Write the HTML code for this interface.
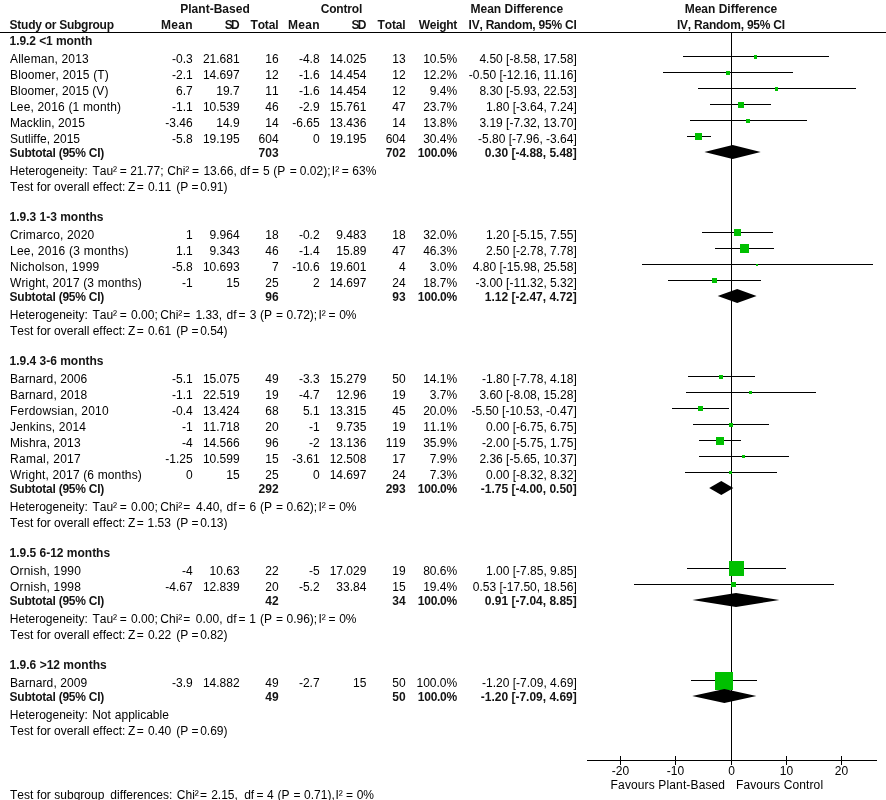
<!DOCTYPE html>
<html><head><meta charset="utf-8"><title>Forest plot</title>
<style>
html,body{margin:0;padding:0;background:#fff}
svg{display:block}
svg{will-change:transform}
text{font-family:"Liberation Sans",sans-serif;font-size:12px;fill:#000;font-kerning:none;font-variant-ligatures:none}
.b{font-weight:bold;fill:#141414}
.e{text-anchor:end}
.m{text-anchor:middle}
</style></head><body>
<svg width="886" height="800" viewBox="0 0 886 800">
<rect width="886" height="800" fill="#fff"/>
<g shape-rendering="crispEdges" fill="#000">
<rect x="0" y="32" width="886" height="1"/>
<rect x="731" y="32" width="1" height="733"/>
<rect x="683" y="56" width="146" height="1"/>
<rect x="754" y="55" width="3" height="4" fill="#00c000"/>
<rect x="663" y="72" width="130" height="1"/>
<rect x="726" y="71" width="4" height="4" fill="#00c000"/>
<rect x="698" y="88" width="158" height="1"/>
<rect x="775" y="87" width="3" height="4" fill="#00c000"/>
<rect x="710" y="104" width="61" height="1"/>
<rect x="738" y="102" width="6" height="6" fill="#00c000"/>
<rect x="690" y="120" width="117" height="1"/>
<rect x="746" y="119" width="4" height="4" fill="#00c000"/>
<rect x="687" y="136" width="24" height="1"/>
<rect x="695" y="133" width="7" height="7" fill="#00c000"/>
<rect x="702" y="232" width="71" height="1"/>
<rect x="734" y="229" width="7" height="7" fill="#00c000"/>
<rect x="715" y="248" width="59" height="1"/>
<rect x="740" y="244" width="9" height="9" fill="#00c000"/>
<rect x="642" y="264" width="231" height="1"/>
<rect x="756" y="264" width="2" height="2" fill="#00c000"/>
<rect x="668" y="280" width="93" height="1"/>
<rect x="712" y="278" width="5" height="5" fill="#00c000"/>
<rect x="688" y="376" width="67" height="1"/>
<rect x="719" y="375" width="4" height="4" fill="#00c000"/>
<rect x="686" y="392" width="130" height="1"/>
<rect x="749" y="391" width="3" height="3" fill="#00c000"/>
<rect x="672" y="408" width="57" height="1"/>
<rect x="698" y="406" width="5" height="5" fill="#00c000"/>
<rect x="693" y="424" width="76" height="1"/>
<rect x="729" y="423" width="4" height="4" fill="#00c000"/>
<rect x="699" y="440" width="42" height="1"/>
<rect x="716" y="437" width="8" height="8" fill="#00c000"/>
<rect x="699" y="456" width="90" height="1"/>
<rect x="742" y="455" width="3" height="3" fill="#00c000"/>
<rect x="685" y="472" width="92" height="1"/>
<rect x="729" y="471" width="3" height="3" fill="#00c000"/>
<rect x="687" y="568" width="99" height="1"/>
<rect x="729" y="561" width="15" height="15" fill="#00c000"/>
<rect x="634" y="584" width="200" height="1"/>
<rect x="731" y="582" width="5" height="5" fill="#00c000"/>
<rect x="691" y="680" width="66" height="1"/>
<rect x="715" y="672" width="18" height="18" fill="#00c000"/>
<rect x="587" y="760" width="290" height="1"/>
<rect x="620" y="756" width="1" height="9"/>
<rect x="675" y="756" width="1" height="9"/>
<rect x="731" y="756" width="1" height="9"/>
<rect x="786" y="756" width="1" height="9"/>
<rect x="841" y="756" width="1" height="9"/>
</g>
<g fill="#000">
<polygon points="704.4,152 732.7,145 760.7,152 732.7,159"/>
<polygon points="717.7,296 737.2,289 756.6,296 737.2,303"/>
<polygon points="709.2,488 721.3,481 733.3,488 721.3,495"/>
<polygon points="692.4,600 736.0,593 779.4,600 736.0,607"/>
<polygon points="692.2,696 724.4,689 756.4,696 724.4,703"/>
</g>
<g id="t">
<text x="215" y="13" class="b m" textLength="69.56">Plant-Based</text>
<text x="341.5" y="13" class="b m" textLength="41.66">Control</text>
<text x="470.5" y="13" class="b" textLength="92.60">Mean Difference</text>
<text x="731" y="13" class="b m" textLength="92.60">Mean Difference</text>
<text x="9.6" y="29" class="b" textLength="104.41">Study or Subgroup</text>
<text x="192.7" y="29" class="b e" textLength="31.69">Mean</text>
<text x="239.6" y="29" class="b e" textLength="14.97">SD</text>
<text x="278.6" y="29" class="b e" textLength="28.17">Total</text>
<text x="319.6" y="29" class="b e" textLength="31.69">Mean</text>
<text x="366.4" y="29" class="b e" textLength="14.97">SD</text>
<text x="405.7" y="29" class="b e" textLength="28.17">Total</text>
<text x="457.2" y="29" class="b e" textLength="38.40">Weight</text>
<text x="576.8" y="29" class="b e" textLength="108.23">IV, Random, 95% CI</text>
<text x="731" y="29" class="b m" textLength="108.23">IV, Random, 95% CI</text>
<text x="9.6" y="45" class="b" textLength="82.70">1.9.2 &lt;1 month</text>
<text x="10" y="63" textLength="78.72">Alleman, 2013</text>
<text x="192.7" y="63" class="e">-0.3</text>
<text x="239.6" y="63" class="e">21.681</text>
<text x="278.6" y="63" class="e">16</text>
<text x="319.6" y="63" class="e">-4.8</text>
<text x="366.4" y="63" class="e">14.025</text>
<text x="405.7" y="63" class="e">13</text>
<text x="457.2" y="63" class="e">10.5%</text>
<text x="576.8" y="63" class="e">4.50 [-8.58, 17.58]</text>
<text x="10" y="79" textLength="98.70">Bloomer, 2015 (T)</text>
<text x="192.7" y="79" class="e">-2.1</text>
<text x="239.6" y="79" class="e">14.697</text>
<text x="278.6" y="79" class="e">12</text>
<text x="319.6" y="79" class="e">-1.6</text>
<text x="366.4" y="79" class="e">14.454</text>
<text x="405.7" y="79" class="e">12</text>
<text x="457.2" y="79" class="e">12.2%</text>
<text x="576.8" y="79" class="e">-0.50 [-12.16, 11.16]</text>
<text x="10" y="95" textLength="98.39">Bloomer, 2015 (V)</text>
<text x="192.7" y="95" class="e">6.7</text>
<text x="239.6" y="95" class="e">19.7</text>
<text x="278.6" y="95" class="e">11</text>
<text x="319.6" y="95" class="e">-1.6</text>
<text x="366.4" y="95" class="e">14.454</text>
<text x="405.7" y="95" class="e">12</text>
<text x="457.2" y="95" class="e">9.4%</text>
<text x="576.8" y="95" class="e">8.30 [-5.93, 22.53]</text>
<text x="10" y="111" textLength="111.08">Lee, 2016 (1 month)</text>
<text x="192.7" y="111" class="e">-1.1</text>
<text x="239.6" y="111" class="e">10.539</text>
<text x="278.6" y="111" class="e">46</text>
<text x="319.6" y="111" class="e">-2.9</text>
<text x="366.4" y="111" class="e">15.761</text>
<text x="405.7" y="111" class="e">47</text>
<text x="457.2" y="111" class="e">23.7%</text>
<text x="576.8" y="111" class="e">1.80 [-3.64, 7.24]</text>
<text x="10" y="127" textLength="75.05">Macklin, 2015</text>
<text x="192.7" y="127" class="e">-3.46</text>
<text x="239.6" y="127" class="e">14.9</text>
<text x="278.6" y="127" class="e">14</text>
<text x="319.6" y="127" class="e">-6.65</text>
<text x="366.4" y="127" class="e">13.436</text>
<text x="405.7" y="127" class="e">14</text>
<text x="457.2" y="127" class="e">13.8%</text>
<text x="576.8" y="127" class="e">3.19 [-7.32, 13.70]</text>
<text x="10" y="143" textLength="70.06">Sutliffe, 2015</text>
<text x="192.7" y="143" class="e">-5.8</text>
<text x="239.6" y="143" class="e">19.195</text>
<text x="278.6" y="143" class="e">604</text>
<text x="319.6" y="143" class="e">0</text>
<text x="366.4" y="143" class="e">19.195</text>
<text x="405.7" y="143" class="e">604</text>
<text x="457.2" y="143" class="e">30.4%</text>
<text x="576.8" y="143" class="e">-5.80 [-7.96, -3.64]</text>
<text x="9.6" y="157" class="b" textLength="94.67">Subtotal (95% CI)</text>
<text x="278.6" y="157" class="b e">703</text>
<text x="405.7" y="157" class="b e">702</text>
<text x="457.2" y="157" class="b e" textLength="39.40">100.0%</text>
<text x="576.8" y="157" class="b e">0.30 [-4.88, 5.48]</text>
<text y="175"><tspan x="9.8">Heterogeneity:</tspan> <tspan x="92.4">Tau²</tspan> <tspan x="119.7">=</tspan> <tspan x="130.2">21.77;</tspan> <tspan x="167.3">Chi²</tspan> <tspan x="192.1">=</tspan> <tspan x="203.4">13.66,</tspan> <tspan x="240.1">df</tspan> <tspan x="252.1">=</tspan> <tspan x="262.9">5</tspan> <tspan x="273.3">(P</tspan> <tspan x="289.7">=</tspan> <tspan x="299.8">0.02);</tspan> <tspan x="331.8">I²</tspan> <tspan x="341.8">=</tspan> <tspan x="352.3">63%</tspan></text>
<text y="190.5"><tspan x="10.0">Test</tspan> <tspan x="36.8">for</tspan> <tspan x="54.1">overall</tspan> <tspan x="92.7">effect:</tspan> <tspan x="127.9">Z</tspan> <tspan x="136.7">=</tspan> <tspan x="147.9">0.11</tspan> <tspan x="176.3">(P</tspan> <tspan x="191.4">=</tspan> <tspan x="200.2">0.91)</tspan></text>
<text x="9.6" y="221" class="b" textLength="93.83">1.9.3 1-3 months</text>
<text x="10" y="239" textLength="84.23">Crimarco, 2020</text>
<text x="192.7" y="239" class="e">1</text>
<text x="239.6" y="239" class="e">9.964</text>
<text x="278.6" y="239" class="e">18</text>
<text x="319.6" y="239" class="e">-0.2</text>
<text x="366.4" y="239" class="e">9.483</text>
<text x="405.7" y="239" class="e">18</text>
<text x="457.2" y="239" class="e">32.0%</text>
<text x="576.8" y="239" class="e">1.20 [-5.15, 7.55]</text>
<text x="10" y="255" textLength="118.38">Lee, 2016 (3 months)</text>
<text x="192.7" y="255" class="e">1.1</text>
<text x="239.6" y="255" class="e">9.343</text>
<text x="278.6" y="255" class="e">46</text>
<text x="319.6" y="255" class="e">-1.4</text>
<text x="366.4" y="255" class="e">15.89</text>
<text x="405.7" y="255" class="e">47</text>
<text x="457.2" y="255" class="e">46.3%</text>
<text x="576.8" y="255" class="e">2.50 [-2.78, 7.78]</text>
<text x="10" y="271" textLength="89.26">Nicholson, 1999</text>
<text x="192.7" y="271" class="e">-5.8</text>
<text x="239.6" y="271" class="e">10.693</text>
<text x="278.6" y="271" class="e">7</text>
<text x="319.6" y="271" class="e">-10.6</text>
<text x="366.4" y="271" class="e">19.601</text>
<text x="405.7" y="271" class="e">4</text>
<text x="457.2" y="271" class="e">3.0%</text>
<text x="576.8" y="271" class="e">4.80 [-15.98, 25.58]</text>
<text x="10" y="287" textLength="131.82">Wright, 2017 (3 months)</text>
<text x="192.7" y="287" class="e">-1</text>
<text x="239.6" y="287" class="e">15</text>
<text x="278.6" y="287" class="e">25</text>
<text x="319.6" y="287" class="e">2</text>
<text x="366.4" y="287" class="e">14.697</text>
<text x="405.7" y="287" class="e">24</text>
<text x="457.2" y="287" class="e">18.7%</text>
<text x="576.8" y="287" class="e">-3.00 [-11.32, 5.32]</text>
<text x="9.6" y="301" class="b" textLength="94.67">Subtotal (95% CI)</text>
<text x="278.6" y="301" class="b e">96</text>
<text x="405.7" y="301" class="b e">93</text>
<text x="457.2" y="301" class="b e" textLength="39.40">100.0%</text>
<text x="576.8" y="301" class="b e">1.12 [-2.47, 4.72]</text>
<text y="319"><tspan x="9.8">Heterogeneity:</tspan> <tspan x="92.4">Tau²</tspan> <tspan x="119.7">=</tspan> <tspan x="131.1">0.00;</tspan> <tspan x="160.3">Chi²</tspan> <tspan x="183.2">=</tspan> <tspan x="195.4">1.33,</tspan> <tspan x="226.6">df</tspan> <tspan x="238.6">=</tspan> <tspan x="249.7">3</tspan> <tspan x="260.0">(P</tspan> <tspan x="275.9">=</tspan> <tspan x="286.5">0.72);</tspan> <tspan x="318.5">I²</tspan> <tspan x="328.5">=</tspan> <tspan x="339.2">0%</tspan></text>
<text y="334.5"><tspan x="10.0">Test</tspan> <tspan x="36.8">for</tspan> <tspan x="54.1">overall</tspan> <tspan x="92.7">effect:</tspan> <tspan x="127.9">Z</tspan> <tspan x="136.7">=</tspan> <tspan x="147.9">0.61</tspan> <tspan x="176.3">(P</tspan> <tspan x="191.4">=</tspan> <tspan x="200.2">0.54)</tspan></text>
<text x="9.6" y="365" class="b" textLength="93.83">1.9.4 3-6 months</text>
<text x="10" y="383" textLength="77.26">Barnard, 2006</text>
<text x="192.7" y="383" class="e">-5.1</text>
<text x="239.6" y="383" class="e">15.075</text>
<text x="278.6" y="383" class="e">49</text>
<text x="319.6" y="383" class="e">-3.3</text>
<text x="366.4" y="383" class="e">15.279</text>
<text x="405.7" y="383" class="e">50</text>
<text x="457.2" y="383" class="e">14.1%</text>
<text x="576.8" y="383" class="e">-1.80 [-7.78, 4.18]</text>
<text x="10" y="399" textLength="77.26">Barnard, 2018</text>
<text x="192.7" y="399" class="e">-1.1</text>
<text x="239.6" y="399" class="e">22.519</text>
<text x="278.6" y="399" class="e">19</text>
<text x="319.6" y="399" class="e">-4.7</text>
<text x="366.4" y="399" class="e">12.96</text>
<text x="405.7" y="399" class="e">19</text>
<text x="457.2" y="399" class="e">3.7%</text>
<text x="576.8" y="399" class="e">3.60 [-8.08, 15.28]</text>
<text x="10" y="415" textLength="98.69">Ferdowsian, 2010</text>
<text x="192.7" y="415" class="e">-0.4</text>
<text x="239.6" y="415" class="e">13.424</text>
<text x="278.6" y="415" class="e">68</text>
<text x="319.6" y="415" class="e">5.1</text>
<text x="366.4" y="415" class="e">13.315</text>
<text x="405.7" y="415" class="e">45</text>
<text x="457.2" y="415" class="e">20.0%</text>
<text x="576.8" y="415" class="e">-5.50 [-10.53, -0.47]</text>
<text x="10" y="431" textLength="76.06">Jenkins, 2014</text>
<text x="192.7" y="431" class="e">-1</text>
<text x="239.6" y="431" class="e">11.718</text>
<text x="278.6" y="431" class="e">20</text>
<text x="319.6" y="431" class="e">-1</text>
<text x="366.4" y="431" class="e">9.735</text>
<text x="405.7" y="431" class="e">19</text>
<text x="457.2" y="431" class="e">11.1%</text>
<text x="576.8" y="431" class="e">0.00 [-6.75, 6.75]</text>
<text x="10" y="447" textLength="70.58">Mishra, 2013</text>
<text x="192.7" y="447" class="e">-4</text>
<text x="239.6" y="447" class="e">14.566</text>
<text x="278.6" y="447" class="e">96</text>
<text x="319.6" y="447" class="e">-2</text>
<text x="366.4" y="447" class="e">13.136</text>
<text x="405.7" y="447" class="e">119</text>
<text x="457.2" y="447" class="e">35.9%</text>
<text x="576.8" y="447" class="e">-2.00 [-5.75, 1.75]</text>
<text x="10" y="463" textLength="70.75">Ramal, 2017</text>
<text x="192.7" y="463" class="e">-1.25</text>
<text x="239.6" y="463" class="e">10.599</text>
<text x="278.6" y="463" class="e">15</text>
<text x="319.6" y="463" class="e">-3.61</text>
<text x="366.4" y="463" class="e">12.508</text>
<text x="405.7" y="463" class="e">17</text>
<text x="457.2" y="463" class="e">7.9%</text>
<text x="576.8" y="463" class="e">2.36 [-5.65, 10.37]</text>
<text x="10" y="479" textLength="131.82">Wright, 2017 (6 months)</text>
<text x="192.7" y="479" class="e">0</text>
<text x="239.6" y="479" class="e">15</text>
<text x="278.6" y="479" class="e">25</text>
<text x="319.6" y="479" class="e">0</text>
<text x="366.4" y="479" class="e">14.697</text>
<text x="405.7" y="479" class="e">24</text>
<text x="457.2" y="479" class="e">7.3%</text>
<text x="576.8" y="479" class="e">0.00 [-8.32, 8.32]</text>
<text x="9.6" y="493" class="b" textLength="94.67">Subtotal (95% CI)</text>
<text x="278.6" y="493" class="b e">292</text>
<text x="405.7" y="493" class="b e">293</text>
<text x="457.2" y="493" class="b e" textLength="39.40">100.0%</text>
<text x="576.8" y="493" class="b e">-1.75 [-4.00, 0.50]</text>
<text y="511"><tspan x="9.8">Heterogeneity:</tspan> <tspan x="92.4">Tau²</tspan> <tspan x="119.7">=</tspan> <tspan x="131.1">0.00;</tspan> <tspan x="160.3">Chi²</tspan> <tspan x="183.2">=</tspan> <tspan x="196.0">4.40,</tspan> <tspan x="226.6">df</tspan> <tspan x="238.6">=</tspan> <tspan x="249.6">6</tspan> <tspan x="260.0">(P</tspan> <tspan x="275.9">=</tspan> <tspan x="286.5">0.62);</tspan> <tspan x="318.5">I²</tspan> <tspan x="328.5">=</tspan> <tspan x="339.2">0%</tspan></text>
<text y="526.5"><tspan x="10.0">Test</tspan> <tspan x="36.8">for</tspan> <tspan x="54.1">overall</tspan> <tspan x="92.7">effect:</tspan> <tspan x="127.9">Z</tspan> <tspan x="136.7">=</tspan> <tspan x="147.5">1.53</tspan> <tspan x="176.3">(P</tspan> <tspan x="191.4">=</tspan> <tspan x="200.2">0.13)</tspan></text>
<text x="9.6" y="557" class="b" textLength="100.52">1.9.5 6-12 months</text>
<text x="10" y="575" textLength="70.92">Ornish, 1990</text>
<text x="192.7" y="575" class="e">-4</text>
<text x="239.6" y="575" class="e">10.63</text>
<text x="278.6" y="575" class="e">22</text>
<text x="319.6" y="575" class="e">-5</text>
<text x="366.4" y="575" class="e">17.029</text>
<text x="405.7" y="575" class="e">19</text>
<text x="457.2" y="575" class="e">80.6%</text>
<text x="576.8" y="575" class="e">1.00 [-7.85, 9.85]</text>
<text x="10" y="591" textLength="70.92">Ornish, 1998</text>
<text x="192.7" y="591" class="e">-4.67</text>
<text x="239.6" y="591" class="e">12.839</text>
<text x="278.6" y="591" class="e">20</text>
<text x="319.6" y="591" class="e">-5.2</text>
<text x="366.4" y="591" class="e">33.84</text>
<text x="405.7" y="591" class="e">15</text>
<text x="457.2" y="591" class="e">19.4%</text>
<text x="576.8" y="591" class="e">0.53 [-17.50, 18.56]</text>
<text x="9.6" y="605" class="b" textLength="94.67">Subtotal (95% CI)</text>
<text x="278.6" y="605" class="b e">42</text>
<text x="405.7" y="605" class="b e">34</text>
<text x="457.2" y="605" class="b e" textLength="39.40">100.0%</text>
<text x="576.8" y="605" class="b e">0.91 [-7.04, 8.85]</text>
<text y="623"><tspan x="9.8">Heterogeneity:</tspan> <tspan x="92.4">Tau²</tspan> <tspan x="119.7">=</tspan> <tspan x="131.1">0.00;</tspan> <tspan x="160.3">Chi²</tspan> <tspan x="183.2">=</tspan> <tspan x="195.8">0.00,</tspan> <tspan x="226.6">df</tspan> <tspan x="238.6">=</tspan> <tspan x="249.3">1</tspan> <tspan x="260.0">(P</tspan> <tspan x="275.9">=</tspan> <tspan x="286.5">0.96);</tspan> <tspan x="318.5">I²</tspan> <tspan x="328.5">=</tspan> <tspan x="339.2">0%</tspan></text>
<text y="638.5"><tspan x="10.0">Test</tspan> <tspan x="36.8">for</tspan> <tspan x="54.1">overall</tspan> <tspan x="92.7">effect:</tspan> <tspan x="127.9">Z</tspan> <tspan x="136.7">=</tspan> <tspan x="147.9">0.22</tspan> <tspan x="176.3">(P</tspan> <tspan x="191.4">=</tspan> <tspan x="200.2">0.82)</tspan></text>
<text x="9.6" y="669" class="b" textLength="97.05">1.9.6 &gt;12 months</text>
<text x="10" y="687" textLength="77.26">Barnard, 2009</text>
<text x="192.7" y="687" class="e">-3.9</text>
<text x="239.6" y="687" class="e">14.882</text>
<text x="278.6" y="687" class="e">49</text>
<text x="319.6" y="687" class="e">-2.7</text>
<text x="366.4" y="687" class="e">15</text>
<text x="405.7" y="687" class="e">50</text>
<text x="457.2" y="687" class="e">100.0%</text>
<text x="576.8" y="687" class="e">-1.20 [-7.09, 4.69]</text>
<text x="9.6" y="701" class="b" textLength="94.67">Subtotal (95% CI)</text>
<text x="278.6" y="701" class="b e">49</text>
<text x="405.7" y="701" class="b e">50</text>
<text x="457.2" y="701" class="b e" textLength="39.40">100.0%</text>
<text x="576.8" y="701" class="b e">-1.20 [-7.09, 4.69]</text>
<text y="719"><tspan x="9.8">Heterogeneity:</tspan> <tspan x="92.2">Not</tspan> <tspan x="114.8">applicable</tspan></text>
<text y="734.5"><tspan x="10.0">Test</tspan> <tspan x="36.8">for</tspan> <tspan x="54.1">overall</tspan> <tspan x="92.7">effect:</tspan> <tspan x="127.9">Z</tspan> <tspan x="136.7">=</tspan> <tspan x="147.9">0.40</tspan> <tspan x="176.3">(P</tspan> <tspan x="191.4">=</tspan> <tspan x="200.2">0.69)</tspan></text>
<text x="620.5" y="775" class="m">-20</text>
<text x="675.5" y="775" class="m">-10</text>
<text x="731.5" y="775" class="m">0</text>
<text x="786.5" y="775" class="m">10</text>
<text x="841.5" y="775" class="m">20</text>
<text x="610.6" y="789" textLength="114.46">Favours Plant-Based</text>
<text x="736" y="789" textLength="87.08">Favours Control</text>
<text y="799"><tspan x="10.0">Test</tspan> <tspan x="36.8">for</tspan> <tspan x="54.3">subgroup</tspan> <tspan x="110.3">differences:</tspan> <tspan x="176.8">Chi²</tspan> <tspan x="200.0">=</tspan> <tspan x="211.2">2.15,</tspan> <tspan x="244.2">df</tspan> <tspan x="256.4">=</tspan> <tspan x="266.9">4</tspan> <tspan x="277.5">(P</tspan> <tspan x="293.4">=</tspan> <tspan x="304.1">0.71),</tspan> <tspan x="335.5">I²</tspan> <tspan x="346.1">=</tspan> <tspan x="356.7">0%</tspan></text>
</g>
</svg>
</body></html>
